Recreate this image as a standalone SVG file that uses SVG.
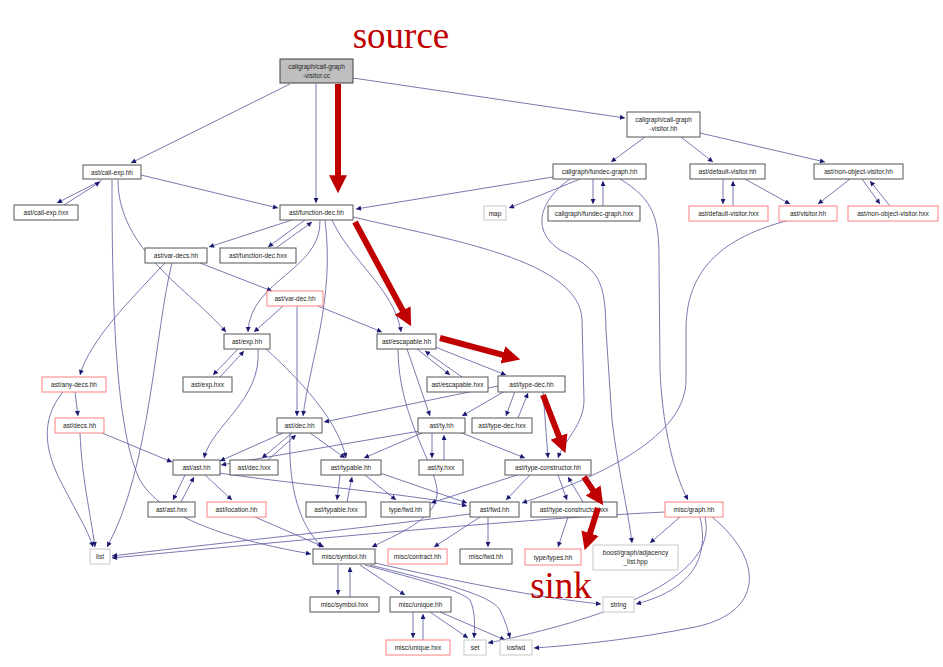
<svg xmlns="http://www.w3.org/2000/svg" width="943" height="667" viewBox="0 0 943 667">
<defs>
<marker id="a" viewBox="0 0 10 10" refX="10" refY="5" markerWidth="6" markerHeight="5" markerUnits="userSpaceOnUse" orient="auto"><path d="M0,0 L10,5 L0,10 z" fill="#191970"/></marker>
<marker id="r" viewBox="0 0 10 10" refX="1" refY="5" markerWidth="18" markerHeight="20" markerUnits="userSpaceOnUse" orient="auto"><path d="M0,0 L10,5 L0,10 z" fill="#c00000"/></marker>
</defs>
<style>
.n rect{fill:#fff;stroke:#555;stroke-width:1}
.n.red rect{stroke:#ff8080}
.n.lt rect{stroke:#c8c8c8}
.n.src rect{fill:#bfbfbf;stroke:#404040}
.n text{font-family:"Liberation Sans",Arial,sans-serif;font-size:6.5px;fill:#222;text-anchor:middle}
#edges path{fill:none;stroke:#6a6aa8;stroke-width:0.9;marker-end:url(#a)}
#hl line{stroke:#c00000;stroke-width:6;marker-end:url(#r)}
.lbl{font-family:"Liberation Serif","Times New Roman",serif;font-size:37px;fill:#c00000;text-anchor:middle}
</style>
<rect width="943" height="667" fill="#fff"/>
<g id="edges">
<path d="M290,84 L131,163"/>
<path d="M316,84 L316,203"/>
<path d="M353,78 L625,118"/>
<path d="M102,180 L57,203"/>
<path d="M64,205 L100,182"/>
<path d="M141,175 L278,208"/>
<path d="M118,180 C118,250 190,290 226,332"/>
<path d="M112,180 C112,300 115,430 140,480 C165,525 260,545 311,554"/>
<path d="M292,220 L209,247"/>
<path d="M305,220 L268,247"/>
<path d="M276,248 L312,222"/>
<path d="M320,220 C322,270 250,280 248,332"/>
<path d="M325,220 C335,300 310,360 303,416"/>
<path d="M332,220 C350,260 395,290 401,332"/>
<path d="M353,217 C450,240 580,260 582,320 L584,400 C584,425 564,440 558,458"/>
<path d="M553,177 L356,209"/>
<path d="M580,179 L509,208"/>
<path d="M593,179 L593,204"/>
<path d="M603,206 L603,181"/>
<path d="M570,179 C540,200 530,230 560,250 C600,270 605,280 606,330 L612,420 C618,470 628,510 632,543"/>
<path d="M620,179 C655,200 659,220 659,260 L660,370 C662,420 672,470 688,500"/>
<path d="M645,137 L611,162"/>
<path d="M681,137 L713,162"/>
<path d="M700,133 L825,162"/>
<path d="M723,179 L723,204"/>
<path d="M733,206 L733,181"/>
<path d="M745,179 L790,204"/>
<path d="M850,179 L818,204"/>
<path d="M862,179 L880,204"/>
<path d="M890,206 L870,181"/>
<path d="M790,220 C710,240 686,280 686,330 L686,380 C686,430 620,470 522,503"/>
<path d="M165,263 C130,300 90,340 80,375"/>
<path d="M172,263 C155,330 150,470 107,547"/>
<path d="M200,263 L272,291"/>
<path d="M283,306 L254,332"/>
<path d="M297,306 L297,416"/>
<path d="M318,306 L382,332"/>
<path d="M238,349 L213,375"/>
<path d="M220,377 L244,351"/>
<path d="M258,349 C262,400 212,425 204,458"/>
<path d="M266,349 C300,380 338,420 346,458"/>
<path d="M417,349 L450,375"/>
<path d="M462,377 L425,351"/>
<path d="M430,345 L506,375"/>
<path d="M407,349 L430,416"/>
<path d="M398,349 C398,420 440,470 437,495 C435,520 395,535 372,547"/>
<path d="M498,386 L324,422"/>
<path d="M505,391 L462,416"/>
<path d="M515,391 L506,416"/>
<path d="M518,418 L528,393"/>
<path d="M543,391 L548,458"/>
<path d="M432,433 L432,458"/>
<path d="M444,460 L444,435"/>
<path d="M420,431 L221,465"/>
<path d="M422,433 L364,458"/>
<path d="M462,433 L525,458"/>
<path d="M292,433 L262,458"/>
<path d="M268,460 L296,435"/>
<path d="M283,433 L220,461"/>
<path d="M310,433 L345,458"/>
<path d="M290,433 C288,490 300,525 322,547"/>
<path d="M102,433 L172,462"/>
<path d="M80,433 C82,480 90,510 95,547"/>
<path d="M75,392 L78,416"/>
<path d="M63,392 C40,420 45,450 60,480 C75,510 88,530 93,547"/>
<path d="M185,475 L173,500"/>
<path d="M181,502 L194,477"/>
<path d="M205,475 L232,500"/>
<path d="M219,473 C300,485 420,495 467,506"/>
<path d="M255,517 L324,547"/>
<path d="M340,475 L337,500"/>
<path d="M347,502 L352,477"/>
<path d="M365,475 L396,500"/>
<path d="M380,473 L467,503"/>
<path d="M530,475 L506,500"/>
<path d="M517,475 L431,503"/>
<path d="M558,475 L567,500"/>
<path d="M583,502 L568,477"/>
<path d="M470,514 C350,530 200,545 112,556"/>
<path d="M480,517 L434,547"/>
<path d="M488,517 L488,547"/>
<path d="M568,517 L558,547"/>
<path d="M665,512 C500,520 250,545 112,558"/>
<path d="M680,517 L650,543"/>
<path d="M700,517 C710,560 690,590 636,604"/>
<path d="M705,517 C720,580 600,620 488,643"/>
<path d="M712,517 C765,560 765,615 690,628 C640,638 580,645 534,648"/>
<path d="M338,565 L338,595"/>
<path d="M350,597 L350,567"/>
<path d="M360,565 L405,595"/>
<path d="M365,565 C420,580 460,590 470,600 C475,610 475,625 474,638"/>
<path d="M370,565 C450,585 490,595 500,610 C505,620 508,630 510,638"/>
<path d="M375,563 C450,580 540,598 601,604"/>
<path d="M413,612 L413,638"/>
<path d="M423,640 L423,614"/>
<path d="M430,612 L468,638"/>
<path d="M440,612 L505,640"/>
</g>
<g id="n_cc" class="n src"><rect x="280" y="59" width="73" height="24"/><text x="316.5" y="69">callgraph/call-graph</text><text x="316.5" y="78">-visitor.cc</text></g>
<g id="n_cgvh" class="n"><rect x="627" y="112" width="73" height="25"/><text x="663.5" y="122">callgraph/call-graph</text><text x="663.5" y="131">-visitor.hh</text></g>
<g id="n_callexp" class="n"><rect x="83" y="165" width="58" height="14"/><text x="112" y="174.5">ast/call-exp.hh</text></g>
<g id="n_callexpx" class="n"><rect x="14" y="205" width="64" height="15"/><text x="46" y="215">ast/call-exp.hxx</text></g>
<g id="n_fundec" class="n"><rect x="280" y="205" width="73" height="15"/><text x="316.5" y="215">ast/function-dec.hh</text></g>
<g id="n_fgraph" class="n"><rect x="553" y="164" width="93" height="15"/><text x="599.5" y="174">callgraph/fundec-graph.hh</text></g>
<g id="n_defvis" class="n"><rect x="690" y="164" width="75" height="15"/><text x="727.5" y="174">ast/default-visitor.hh</text></g>
<g id="n_novis" class="n"><rect x="814" y="164" width="89" height="15"/><text x="858.5" y="174">ast/non-object-visitor.hh</text></g>
<g id="n_map" class="n lt"><rect x="484" y="206" width="22" height="14"/><text x="495" y="215.5">map</text></g>
<g id="n_fgraphx" class="n"><rect x="548" y="206" width="92" height="15"/><text x="594" y="216">callgraph/fundec-graph.hxx</text></g>
<g id="n_defvisx" class="n red"><rect x="689" y="206" width="79" height="15"/><text x="728.5" y="216">ast/default-visitor.hxx</text></g>
<g id="n_vis" class="n red"><rect x="779" y="206" width="58" height="15"/><text x="808" y="216">ast/visitor.hh</text></g>
<g id="n_novisx" class="n red"><rect x="848" y="206" width="90" height="15"/><text x="893" y="216">ast/non-object-visitor.hxx</text></g>
<g id="n_vardecs" class="n"><rect x="145" y="248" width="62" height="15"/><text x="176" y="258">ast/var-decs.hh</text></g>
<g id="n_fundecx" class="n"><rect x="220" y="248" width="76" height="15"/><text x="258" y="258">ast/function-dec.hxx</text></g>
<g id="n_vardec" class="n red"><rect x="267" y="291" width="56" height="15"/><text x="295" y="301">ast/var-dec.hh</text></g>
<g id="n_exp" class="n"><rect x="224" y="334" width="46" height="15"/><text x="247" y="344">ast/exp.hh</text></g>
<g id="n_esc" class="n"><rect x="377" y="334" width="59" height="15"/><text x="406.5" y="344">ast/escapable.hh</text></g>
<g id="n_anydecs" class="n red"><rect x="42" y="377" width="64" height="15"/><text x="74" y="387">ast/any-decs.hh</text></g>
<g id="n_expx" class="n"><rect x="183" y="377" width="49" height="15"/><text x="207.5" y="387">ast/exp.hxx</text></g>
<g id="n_escx" class="n"><rect x="427" y="377" width="61" height="15"/><text x="457.5" y="387">ast/escapable.hxx</text></g>
<g id="n_tdec" class="n"><rect x="498" y="376" width="67" height="16"/><text x="531.5" y="386.5">ast/type-dec.hh</text></g>
<g id="n_decs" class="n red"><rect x="55" y="418" width="49" height="15"/><text x="79.5" y="428">ast/decs.hh</text></g>
<g id="n_dec" class="n"><rect x="277" y="418" width="45" height="15"/><text x="299.5" y="428">ast/dec.hh</text></g>
<g id="n_ty" class="n"><rect x="418" y="418" width="47" height="15"/><text x="441.5" y="428">ast/ty.hh</text></g>
<g id="n_tdecx" class="n"><rect x="472" y="418" width="60" height="15"/><text x="502" y="428">ast/type-dec.hxx</text></g>
<g id="n_ast" class="n"><rect x="173" y="460" width="47" height="15"/><text x="196.5" y="470">ast/ast.hh</text></g>
<g id="n_decx" class="n"><rect x="230" y="460" width="48" height="15"/><text x="254" y="470">ast/dec.hxx</text></g>
<g id="n_typable" class="n"><rect x="321" y="460" width="60" height="15"/><text x="351" y="470">ast/typable.hh</text></g>
<g id="n_tyx" class="n"><rect x="419" y="460" width="44" height="15"/><text x="441" y="470">ast/ty.hxx</text></g>
<g id="n_tcon" class="n"><rect x="505" y="460" width="86" height="15"/><text x="548" y="470">ast/type-constructor.hh</text></g>
<g id="n_astx" class="n"><rect x="148" y="502" width="47" height="15"/><text x="171.5" y="512">ast/ast.hxx</text></g>
<g id="n_loc" class="n red"><rect x="207" y="502" width="59" height="15"/><text x="236.5" y="512">ast/location.hh</text></g>
<g id="n_typablex" class="n"><rect x="306" y="502" width="60" height="15"/><text x="336" y="512">ast/typable.hxx</text></g>
<g id="n_tfwd" class="n"><rect x="381" y="502" width="49" height="15"/><text x="405.5" y="512">type/fwd.hh</text></g>
<g id="n_afwd" class="n"><rect x="470" y="502" width="49" height="15"/><text x="494.5" y="512">ast/fwd.hh</text></g>
<g id="n_tconx" class="n"><rect x="531" y="502" width="86" height="15"/><text x="574" y="512">ast/type-constructor.hxx</text></g>
<g id="n_mgraph" class="n red"><rect x="665" y="502" width="58" height="15"/><text x="694" y="512">misc/graph.hh</text></g>
<g id="n_list" class="n lt"><rect x="90" y="549" width="20" height="15"/><text x="100" y="559">list</text></g>
<g id="n_sym" class="n"><rect x="313" y="549" width="62" height="15"/><text x="344" y="559">misc/symbol.hh</text></g>
<g id="n_contract" class="n red"><rect x="388" y="549" width="59" height="15"/><text x="417.5" y="559">misc/contract.hh</text></g>
<g id="n_mfwd" class="n"><rect x="460" y="549" width="52" height="15"/><text x="486" y="559">misc/fwd.hh</text></g>
<g id="n_types" class="n red"><rect x="525" y="549" width="56" height="16"/><text x="553" y="559.5">type/types.hh</text></g>
<g id="n_boost" class="n lt"><rect x="593" y="545" width="85" height="25"/><text x="635.5" y="555">boost/graph/adjacency</text><text x="635.5" y="564">_list.hpp</text></g>
<g id="n_symx" class="n"><rect x="310" y="597" width="69" height="15"/><text x="344.5" y="607">misc/symbol.hxx</text></g>
<g id="n_unique" class="n"><rect x="390" y="597" width="61" height="15"/><text x="420.5" y="607">misc/unique.hh</text></g>
<g id="n_string" class="n lt"><rect x="603" y="597" width="31" height="15"/><text x="618.5" y="607">string</text></g>
<g id="n_uniquex" class="n red"><rect x="386" y="640" width="64" height="15"/><text x="418" y="650">misc/unique.hxx</text></g>
<g id="n_set" class="n lt"><rect x="464" y="640" width="22" height="15"/><text x="475" y="650">set</text></g>
<g id="n_iosfwd" class="n lt"><rect x="500" y="640" width="32" height="15"/><text x="516" y="650">iosfwd</text></g>
<g id="hl">
<line x1="338" y1="84" x2="338" y2="177"/>
<line x1="355" y1="222" x2="403.5" y2="312"/>
<line x1="440" y1="338" x2="504.6" y2="355.3"/>
<line x1="543" y1="395" x2="559.6" y2="438.2"/>
<line x1="584" y1="477" x2="594.1" y2="491.9"/>
<line x1="598" y1="508" x2="589.5" y2="534.9"/>
</g>
<text class="lbl" x="401" y="48">source</text>
<text class="lbl" x="561" y="598">sink</text>
</svg>
